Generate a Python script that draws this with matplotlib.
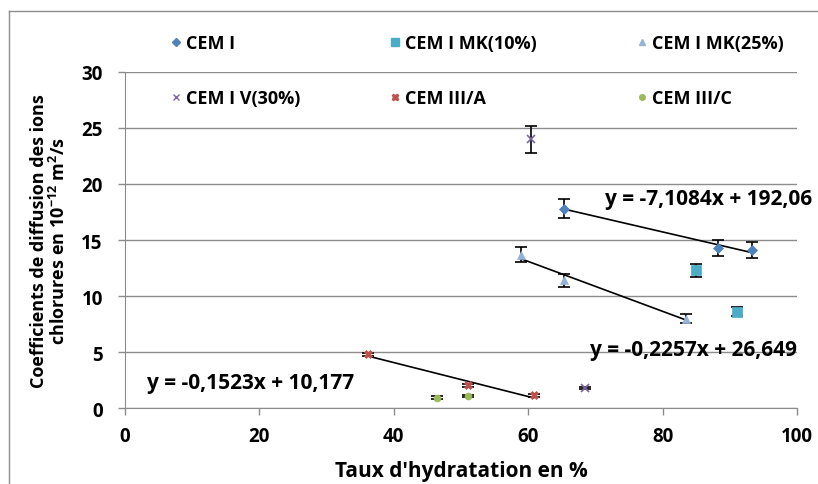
import numpy as np
import matplotlib.pyplot as plt
from matplotlib.lines import Line2D

# Taux d'hydratation (%) / coefficient de diffusion (1e-12 m2/s) / demi-barre d'erreur
cem1_x = [65.4, 88.3, 93.3]
cem1_y = [17.8, 14.3, 14.1]
cem1_err = [0.85, 0.7, 0.7]

mk10_x = [84.9, 91.1]
mk10_y = [12.3, 8.6]
mk10_err = [0.6, 0.4]

mk25_x = [58.9, 65.4, 83.5]
mk25_y = [13.7, 11.4, 8.0]
mk25_err = [0.7, 0.55, 0.4]

v30_x = [60.4, 68.4]
v30_y = [24.0, 1.8]
v30_err = [1.2, 0.12]

c3a_x = [36.2, 51.0, 60.8]
c3a_y = [4.8, 2.05, 1.15]
c3a_err = [0.15, 0.15, 0.12]

c3c_x = [46.5, 51.1]
c3c_y = [0.95, 1.1]
c3c_err = [0.12, 0.12]

labels = ['CEM I', 'CEM I MK(10%)', 'CEM I MK(25%)',
          'CEM I V(30%)', 'CEM III/A', 'CEM III/C']
equations = ['y = -7,1084x + 192,06', 'y = -0,2257x + 26,649', 'y = -0,1523x + 10,177']

plt.rcParams['font.family'] = ['Open Sans', 'DejaVu Sans']

fig = plt.figure(figsize=(8.18, 4.85), dpi=100)
ax = fig.add_axes([0.1528, 0.156, 0.8215, 0.694])

series = [
    (cem1_x, cem1_y, cem1_err, 'D', '#4F81BD', 5),
    (mk10_x, mk10_y, mk10_err, 's', '#4BACC6', 7),
    (mk25_x, mk25_y, mk25_err, '^', '#95B3D7', 6),
    (v30_x, v30_y, v30_err, 'x', '#8064A2', 6),
    (c3a_x, c3a_y, c3a_err, 'X', '#C0504D', 6),
    (c3c_x, c3c_y, c3c_err, 'o', '#9BBB59', 5),
]

handles = []
for (x, y, e, m, c, s), lab in zip(series, labels):
    ax.errorbar(x, y, yerr=e, fmt='none', ecolor='black', elinewidth=1.2,
                capsize=4, capthick=1.2, zorder=3)
    ax.plot(x, y, linestyle='none', marker=m, color=c, markersize=s,
            markeredgewidth=1.2 if m == 'x' else 0.5, zorder=4)
    handles.append(Line2D([], [], linestyle='none', marker=m, color=c,
                          markersize=s - 1, label=lab))

# courbes de tendance (regression lineaire)
for x, y in [(cem1_x, cem1_y), (mk25_x, mk25_y), (c3a_x, c3a_y)]:
    a, b = np.polyfit(x, y, 1)
    xs = np.array([min(x), max(x)])
    ax.plot(xs, a * xs + b, color='black', lw=1.2, zorder=2)

eq_font = dict(fontsize=15, fontweight='bold', va='center')
ax.text(71.4, 18.7, equations[0], clip_on=False, **eq_font)
ax.text(69.2, 5.2, equations[1], clip_on=False, **eq_font)
ax.text(3.3, 2.3, equations[2], **eq_font)

ax.set_xlim(0, 100)
ax.set_ylim(0, 30)
ax.set_xticks(range(0, 101, 20))
ax.set_yticks(range(0, 31, 5))
ax.grid(axis='y', color='#8c8c8c', lw=1)
ax.set_axisbelow(True)
for side in ['top', 'right']:
    ax.spines[side].set_visible(False)
for side in ['left', 'bottom']:
    ax.spines[side].set_color('#8c8c8c')
ax.tick_params(colors='#8c8c8c', labelcolor='black', length=5, width=1,
               labelsize=13.5)
ax.tick_params(axis='x', pad=8)
ax.tick_params(axis='y', pad=11)
for t in ax.get_xticklabels() + ax.get_yticklabels():
    t.set_fontweight('bold')

ax.set_xlabel("Taux d'hydratation en %", fontsize=15, fontweight='bold', labelpad=10)
ax.set_ylabel('Coefficients de diffusion des ions\nchlorures en $\\mathregular{10^{-12}}$ m$\\mathregular{^2}$/s',
              fontsize=13, fontweight='bold', linespacing=1.1)
ax.yaxis.set_label_coords(-0.083, 0.5)

# legende sur trois colonnes
col_x = [0.198, 0.465, 0.767]
for i, cx in enumerate(col_x):
    fig.legend(handles=[handles[i], handles[i + 3]], loc='upper left',
               bbox_to_anchor=(cx, 0.946), frameon=False,
               prop={'weight': 'bold', 'size': 13}, handlelength=0.6,
               handletextpad=0.25, labelspacing=2.05, borderpad=0)

# cadre du graphique
fig.add_artist(Line2D([9 / 818, 9 / 818], [0, 1 - 12 / 485], color='#8c8c8c', lw=1))
fig.add_artist(Line2D([9 / 818, 1], [1 - 12 / 485, 1 - 12 / 485], color='#8c8c8c', lw=1))

fig.savefig('out.png', dpi=100)
